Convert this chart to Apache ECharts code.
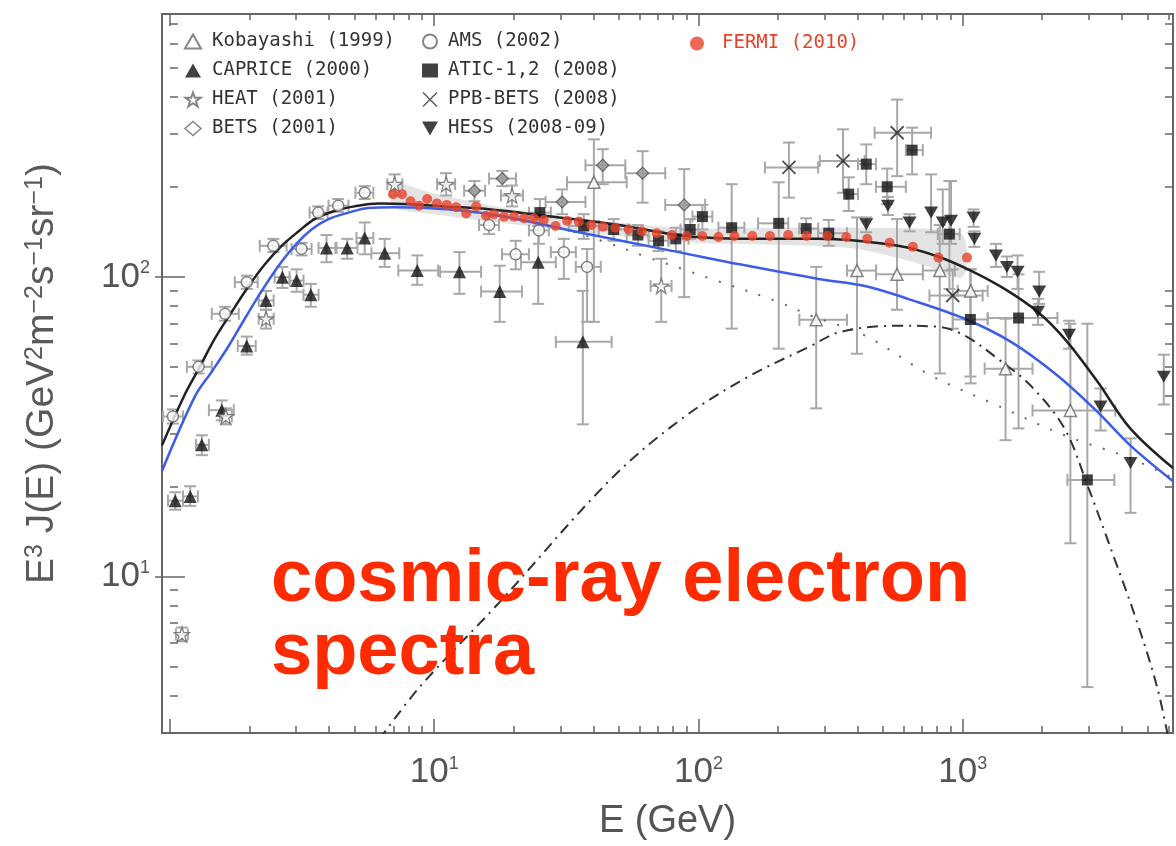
<!DOCTYPE html>
<html>
<head>
<meta charset="utf-8">
<title>cosmic-ray electron spectra</title>
<script src="https://cdn.jsdelivr.net/npm/echarts@6.0.0/dist/echarts.min.js"></script>
<style>
  html, body { margin: 0; padding: 0; background: #fff; }
  #chart { width: 1176px; height: 846px; }
</style>
</head>
<body>
<div id="chart"></div>
<script>
// axis ranges: E in GeV, E^3 J(E) in GeV^2 m^-2 s^-1 sr^-1
const xRange = [0.933, 6250];
const yRange = [3, 755];
const xLabelValues = [10, 100, 1000];
const yLabelValues = [10, 100];
const xMajorTicks = [1, 10, 100, 1000];
const xMinorTicks = [2, 3, 4, 5, 6, 7, 8, 9, 20, 30, 40, 50, 60, 70, 80, 90,
  200, 300, 400, 500, 600, 700, 800, 900, 2000, 3000, 4000, 5000, 6000];
const yMajorTicks = [10, 100];
const yMinorTicks = [4, 5, 6, 7, 8, 9, 20, 30, 40, 50, 60, 70, 80, 90, 200, 300, 400, 500, 600, 700];

// rows: [E, E3J, E low, E high, E3J low, E3J high]
const kobayashi = [
  [40.2, 207, 31.8, 53.5, 70.8, 288],
  [279, 71.9, 241, 365, 36.4, 108],
  [398, 105, 365, 470, 55.4, 158],
  [564, 102, 470, 707, 77.7, 156],
  [819, 105, 707, 933, 47.6, 149],
  [1072, 89.8, 957, 1243, 44.1, 106],
  [1453, 49.4, 1211, 1838, 28.5, 72.5],
  [2556, 35.8, 1838, 3780, 12.9, 69.8]
];
const caprice = [
  [1.047, 17.9, 0.983, 1.120, 16.7, 19.1],
  [1.193, 18.5, 1.120, 1.275, 17.2, 20.0],
  [1.320, 27.5, 1.254, 1.404, 25.4, 29.6],
  [1.571, 35.9, 1.404, 1.744, 33.2, 38.7],
  [1.953, 58.8, 1.806, 2.111, 55.0, 63.2],
  [2.309, 83.4, 2.167, 2.469, 77.7, 89.8],
  [2.663, 99.8, 2.490, 2.837, 91.9, 108],
  [3.015, 97.2, 2.837, 3.203, 89.2, 106],
  [3.413, 87.2, 3.203, 3.650, 79.5, 94.8],
  [3.913, 125, 3.650, 4.268, 112, 138],
  [4.685, 125, 4.231, 5.122, 115, 134],
  [5.458, 135, 5.078, 5.886, 119, 152],
  [6.494, 120, 5.785, 7.379, 108, 134],
  [8.628, 105, 7.315, 10.35, 94.1, 118],
  [12.46, 104, 10.53, 15.05, 87.8, 121],
  [17.70, 89.4, 15.05, 21.48, 70.8, 109],
  [24.75, 112, 21.29, 28.86, 81.3, 148],
  [36.50, 60.7, 28.86, 46.95, 32.2, 89.8]
];
const heat = [
  [1.110, 6.40, 1.053, 1.169, 6.07, 6.75],
  [1.627, 34.2, 1.544, 1.714, 32.2, 36.4],
  [2.309, 72.5, 2.167, 2.469, 67.2, 77.7],
  [7.085, 204, 6.646, 7.573, 187, 220],
  [11.10, 204, 10.26, 12.00, 187, 222],
  [19.70, 187, 17.89, 21.67, 172, 202],
  [72.3, 93.3, 65.9, 79.1, 70.8, 115]
];
const bets = [
  [14.20, 194, 12.98, 15.58, 179, 209],
  [18.10, 213, 16.13, 20.39, 201, 226],
  [30.50, 178, 26.40, 37.36, 162, 196],
  [43.42, 236, 37.36, 52.89, 204, 267],
  [61.46, 222, 52.89, 74.88, 177, 263],
  [88.31, 174, 74.88, 106.0, 85.6, 229]
];
const ams = [
  [1.026, 34.2, 0.941, 1.120, 32.4, 36.1],
  [1.283, 50.1, 1.159, 1.440, 47.6, 52.6],
  [1.617, 75.3, 1.440, 1.821, 71.4, 79.5],
  [1.953, 96.0, 1.760, 2.148, 91.2, 101],
  [2.462, 127, 2.186, 2.764, 121, 134],
  [3.148, 124, 2.886, 3.435, 118, 130],
  [3.640, 164, 3.375, 3.947, 156, 172],
  [4.332, 173, 3.981, 4.737, 165, 182],
  [5.458, 191, 5.033, 5.886, 182, 201],
  [16.13, 149, 14.78, 17.59, 139, 160],
  [20.34, 119, 18.06, 22.83, 106, 132],
  [24.90, 143, 22.83, 27.16, 129, 156],
  [30.95, 121, 27.64, 34.35, 98.5, 134],
  [37.88, 108, 34.35, 42.68, 70.8, 124]
];
const atic = [
  [25.12, 164, 22.83, 27.64, 149, 182],
  [36.81, 148, 32.32, 41.95, 134, 162],
  [47.77, 144, 41.95, 54.43, 132, 156],
  [58.99, 138, 53.49, 64.76, 127, 149],
  [70.63, 132, 64.76, 77.06, 122, 142],
  [82.09, 134, 77.06, 91.69, 122, 146],
  [93.05, 144, 85.53, 100.0, 134, 156],
  [103.5, 159, 94.93, 112.9, 144, 174],
  [133.6, 146, 119.0, 149.2, 67.2, 204],
  [201.3, 151, 168.1, 218.6, 57.6, 207],
  [255.6, 145, 240.5, 283.8, 134, 157],
  [311.3, 140, 283.8, 365.0, 127, 155],
  [370.4, 189, 365.0, 401.6, 166, 215],
  [431.6, 238, 401.6, 469.6, 204, 277],
  [518.0, 200, 469.6, 609.4, 175, 230],
  [643.7, 265, 609.4, 706.5, 220, 315],
  [890.8, 139, 804.8, 974.3, 91.2, 209],
  [1069, 72.1, 916.9, 1243, 46.5, 106],
  [1627, 72.9, 1243, 2283, 31.2, 102],
  [2963, 21.0, 2490, 3747, 4.27, 69.8]
];
const ppbBets = [
  [220.0, 232, 178.5, 283.8, 184, 281],
  [352.5, 244, 287.9, 425.6, 191, 311],
  [565.0, 303, 464.3, 759.2, 217, 391],
  [916.9, 86.7, 748.6, 1190, 67.2, 106]
];
const hess = [
  [431.6, 150, 431.6, 431.6, 141, 158],
  [521.2, 173, 521.2, 521.2, 161, 185],
  [629.3, 152, 629.3, 629.3, 142, 162],
  [759.2, 164, 759.2, 759.2, 141, 220],
  [840.5, 152, 840.5, 840.5, 129, 196],
  [903.3, 154, 903.3, 903.3, 129, 209],
  [1100, 158, 1100, 1100, 147, 168],
  [1107, 134, 1107, 1107, 126, 142],
  [1336, 118, 1336, 1336, 108, 129],
  [1470, 108, 1470, 1470, 100, 117],
  [1613, 104, 1613, 1613, 91.2, 118],
  [1927, 76.5, 1927, 1927, 69.2, 84.5],
  [1947, 89.4, 1947, 1947, 81.3, 104],
  [2527, 64.1, 2527, 2527, 57.6, 71.4],
  [3325, 36.9, 3325, 3325, 30.7, 42.4],
  [4317, 23.9, 4317, 4317, 16.3, 28.9],
  [5768, 46.4, 5768, 5768, 37.5, 55.0]
];
// [E, E3J]
const fermi = [
  [6.99, 189], [7.55, 189], [8.14, 179], [8.76, 173], [9.41, 182], [10.24, 176],
  [11.16, 174], [12.11, 171], [13.21, 163], [14.41, 172], [15.71, 160], [16.84, 162],
  [18.37, 159], [20.04, 159], [21.86, 157], [23.85, 157], [26.01, 155], [28.79, 148],
  [31.84, 154], [35.25, 153], [39.37, 149], [43.54, 147], [48.50, 146], [54.43, 144],
  [61.10, 142], [69.59, 140], [79.29, 138], [90.33, 137], [103.5, 137], [119.0, 136],
  [136.7, 137], [159.9, 137], [186.5, 137], [218.6, 138], [256.3, 137], [307.5, 137],
  [362.7, 136], [435.5, 134], [528.9, 130], [647.6, 126], [809.6, 116], [1038, 116]
];
const fermiBandE = [7, 10, 20, 50, 100, 200, 400, 700, 1000];
const fermiBandHi = [205, 190, 168, 152, 145, 146, 146, 145, 138];
const fermiBandLo = [172, 162, 150, 137, 130, 128, 124, 110, 100];

// model curves [E, E3J]
const totalModel = [
  [0.933, 27.4], [1.129, 39.9], [1.286, 49.4], [1.478, 62.2], [1.714, 76.5], [1.987, 93.3],
  [2.283, 110], [2.646, 127], [3.068, 142], [3.525, 156], [4.195, 166], [4.99, 172],
  [6.15, 176], [8.19, 175], [10.9, 172], [16.4, 168], [29.6, 158], [49.9, 149], [89.3, 137],
  [168, 134], [284, 134], [569, 127], [805, 117], [1072, 105], [1440, 91.2], [1919, 76.5],
  [2427, 62.2], [3230, 44.8], [4305, 31.2], [6250, 23.0]
];
const blueModel = [
  [0.933, 22.5], [1.243, 39.9], [1.440, 48.3], [1.670, 58.9], [1.919, 72.5], [2.225, 89.8],
  [2.578, 109], [2.963, 127], [3.435, 144], [3.98, 156], [4.74, 164], [5.63, 170],
  [7.07, 171], [9.49, 170], [16.4, 162], [35.3, 141], [84.0, 121], [130, 112], [284, 98.5],
  [427, 93.3], [620, 84.5], [1018, 72.5], [1518, 60.8], [2282, 46.9], [3230, 35.5],
  [4305, 27.4], [6250, 20.8]
];
const dottedModel = [
  [16.4, 162], [29.6, 146], [43.0, 132], [63.1, 117], [112, 98.5], [200, 82.6], [267, 74.2],
  [427, 63.7], [757, 46.9], [1355, 37.2], [2427, 29.6], [4305, 24.8], [6250, 21.3]
];
const dashDotModel = [
  [6.20, 2.86], [8.93, 4.33], [17.6, 8.17], [45.8, 20.8], [84.1, 33.0], [150, 45.8],
  [267, 58.9], [346, 65.6], [569, 68.7], [805, 68.2], [1018, 63.7], [1355, 53.4],
  [1806, 43.4], [2427, 31.2], [2963, 20.2], [3747, 11.5], [4575, 7.02], [5443, 4.27], [6040, 2.80]
];

const STAR = 'path://M50,2L61.8,36.2L97.6,36.2L68.7,57.4L79.6,91.6L50,70.6L20.4,91.6L31.3,57.4L2.4,36.2L38.2,36.2Z';
const CROSS = 'path://M0,0L10,10M10,0L0,10';
const DOWN = 'path://M0,0L10,0L5,8.7Z';
const FONT = 'Liberation Sans';
const AXIS_GREY = '#555';
const ERR_GREY = '#a8a8a8';

let pointSets = [
  { name: 'Kobayashi (1999)', data: kobayashi, symbol: 'triangle', size: 12,
    style: { color: '#fff', borderColor: '#666', borderWidth: 1.5 } },
  { name: 'CAPRICE (2000)', data: caprice, symbol: 'triangle', size: 13,
    style: { color: '#111' } },
  { name: 'HEAT (2001)', data: heat, symbol: STAR, size: 15,
    style: { color: '#fff', borderColor: '#666', borderWidth: 1.3 } },
  { name: 'BETS (2001)', data: bets, symbol: 'diamond', size: 12,
    style: { color: '#999', borderColor: '#555', borderWidth: 1.3 } },
  { name: 'AMS (2002)', data: ams, symbol: 'circle', size: 11,
    style: { color: '#fff', borderColor: '#666', borderWidth: 1.5 } },
  { name: 'ATIC-1,2 (2008)', data: atic, symbol: 'rect', size: 11,
    style: { color: '#111' } },
  { name: 'PPB-BETS (2008)', data: ppbBets, symbol: CROSS, size: 13,
    style: { color: '#222', borderColor: '#222', borderWidth: 1.8 } },
  { name: 'HESS (2008-09)', data: hess, symbol: DOWN, size: [14, 12],
    style: { color: '#111' } }
];

function renderErrorBar(params, api) {
  let e = api.value(0), j = api.value(1);
  let c = api.coord([e, j]);
  let l = api.coord([api.value(2), j]);
  let r = api.coord([api.value(3), j]);
  let b = api.coord([e, api.value(4)]);
  let t = api.coord([e, api.value(5)]);
  let cap = 6;
  let style = { stroke: ERR_GREY, lineWidth: 2 };
  let children = [];
  let seg = (x1, y1, x2, y2) => children.push({ type: 'line', shape: { x1, y1, x2, y2 }, style });
  if (r[0] - l[0] > 1) {
    seg(l[0], c[1], r[0], c[1]);
    seg(l[0], c[1] - cap, l[0], c[1] + cap);
    seg(r[0], c[1] - cap, r[0], c[1] + cap);
  }
  if (b[1] - t[1] > 1) {
    seg(c[0], t[1], c[0], b[1]);
    seg(c[0] - cap, t[1], c[0] + cap, t[1]);
    seg(c[0] - cap, b[1], c[0] + cap, b[1]);
  }
  return { type: 'group', children };
}

function renderBand(params, api) {
  let pts = [];
  fermiBandE.forEach((e, i) => pts.push(api.coord([e, fermiBandHi[i]])));
  for (let i = fermiBandE.length - 1; i >= 0; i--) pts.push(api.coord([fermiBandE[i], fermiBandLo[i]]));
  return { type: 'polygon', shape: { points: pts, smooth: 0.3 }, style: { fill: '#dcdcdc', opacity: 0.8 } };
}

let sameValue = (list, v) => list.some(l => Math.abs(v / l - 1) < 1e-6);
let supRich = {
  b: { fontSize: 35, color: AXIS_GREY, fontFamily: FONT },
  s: { fontSize: 18, color: AXIS_GREY, fontFamily: FONT, verticalAlign: 'top' }
};

let tickAxis = (position, range, values, len) => ({
  type: 'value',
  position: position,
  min: Math.log10(range[0]),
  max: Math.log10(range[1]),
  axisLine: { show: false },
  axisLabel: { show: false },
  splitLine: { show: false },
  axisTick: { show: true, inside: true, length: len, customValues: values.map(Math.log10),
    lineStyle: { color: '#666', width: 1.5 } }
});

let series = [];
series.push({ type: 'custom', name: 'fermi-band', renderItem: renderBand, data: [[fermiBandE[0], fermiBandHi[0]]],
  encode: { x: 0, y: 1 }, clip: true, z: 1, silent: true });
pointSets.forEach(s => {
  series.push({ type: 'custom', name: s.name + ' error', renderItem: renderErrorBar, data: s.data,
    encode: { x: [0, 2, 3], y: [1, 4, 5] }, clip: true, z: 2, silent: true });
});
let curve = (data, color, width, type) => ({
  type: 'line', data: data, smooth: 0.35, symbol: 'none', clip: true, z: 3, silent: true,
  lineStyle: { color: color, width: width, type: type }
});
series.push(curve(dottedModel, '#666', 2, [2, 12]));
series.push(curve(dashDotModel, '#333', 2, [11, 6, 2, 6]));
series.push(curve(blueModel, '#3d5ce8', 2.5, 'solid'));
series.push(curve(totalModel, '#222', 2.5, 'solid'));
pointSets.forEach(s => {
  series.push({ type: 'scatter', name: s.name, data: s.data.map(r => [r[0], r[1]]),
    symbol: s.symbol, symbolSize: s.size, itemStyle: s.style, clip: true, z: 4 });
});
series.push({ type: 'scatter', name: 'FERMI (2010)', data: fermi, symbol: 'circle', symbolSize: 10,
  itemStyle: { color: '#e8412b' }, clip: true, z: 5 });

let legendText = { fontFamily: 'DejaVu Sans Mono', fontSize: 19, color: '#333' };
let legendBase = { orient: 'vertical', itemWidth: 16, itemHeight: 14, itemGap: 10, selectedMode: false, padding: 0 };

let option = {
  animation: false,
  backgroundColor: '#fff',
  title: {
    text: 'cosmic-ray electron\nspectra',
    left: 271, top: 544, padding: 0,
    textStyle: { fontFamily: FONT, fontSize: 74, fontWeight: 'bold', color: '#fe2a00', lineHeight: 73 }
  },
  legend: [
    Object.assign({}, legendBase, { left: 184, top: 32,
      textStyle: Object.assign({}, legendText, { padding: [0, 0, 0, 6] }),
      data: [
        { name: 'Kobayashi (1999)' },
        { name: 'CAPRICE (2000)' },
        { name: 'HEAT (2001)' },
        { name: 'BETS (2001)', itemStyle: { color: '#fff', borderColor: '#666', borderWidth: 1.5 } }
      ] }),
    Object.assign({}, legendBase, { left: 422, top: 32,
      textStyle: Object.assign({}, legendText, { padding: [0, 0, 0, 5] }),
      data: [
        { name: 'AMS (2002)' },
        { name: 'ATIC-1,2 (2008)' },
        { name: 'PPB-BETS (2008)', itemStyle: { borderColor: '#333', borderWidth: 1.5 } },
        { name: 'HESS (2008-09)' }
      ] }),
    Object.assign({}, legendBase, { left: 690, top: 34,
      textStyle: Object.assign({}, legendText, { padding: [0, 0, 0, 12], color: '#e8412b' }),
      data: [{ name: 'FERMI (2010)' }] })
  ],
  grid: { left: 162, right: 0, top: 14, bottom: 110, show: true, borderColor: '#666', borderWidth: 2 },
  xAxis: [
    {
      type: 'log', position: 'bottom', min: xRange[0], max: xRange[1],
      name: 'E (GeV)', nameLocation: 'middle', nameGap: 70,
      nameTextStyle: { fontFamily: FONT, fontSize: 38, color: AXIS_GREY },
      axisLine: { show: false }, axisTick: { show: false }, splitLine: { show: false },
      axisLabel: {
        margin: 22,
        formatter: v => sameValue(xLabelValues, v) ? '{b|10}{s|' + Math.round(Math.log10(v)) + '}' : '',
        rich: supRich
      }
    },
    tickAxis('bottom', xRange, xMajorTicks, 14),
    tickAxis('bottom', xRange, xMinorTicks, 7),
    tickAxis('top', xRange, xMajorTicks, 12),
    tickAxis('top', xRange, xMinorTicks, 6)
  ],
  yAxis: [
    {
      type: 'log', position: 'left', min: yRange[0], max: yRange[1],
      name: '{b|E}{s|3}{b| J(E) (GeV}{s|2}{b|m}{s|\u22122}{b|s}{s|\u22121}{b|sr}{s|\u22121}{b|)}',
      nameLocation: 'middle', nameGap: 100, nameRotate: 90,
      nameTextStyle: {
        rich: {
          b: { fontSize: 39, color: '#5a5a5a', fontFamily: FONT },
          s: { fontSize: 25, color: '#5a5a5a', fontFamily: FONT, verticalAlign: 'top' }
        }
      },
      axisLine: { show: false }, axisTick: { show: false }, splitLine: { show: false },
      axisLabel: {
        margin: 12,
        formatter: v => sameValue(yLabelValues, v) ? '{b|10}{s|' + Math.round(Math.log10(v)) + '}' : '',
        rich: supRich
      }
    },
    tickAxis('left', yRange, yMajorTicks, 15),
    tickAxis('left', yRange, yMinorTicks, 8),
    tickAxis('right', yRange, yMajorTicks, 15),
    tickAxis('right', yRange, yMinorTicks, 8)
  ],
  series: series
};

let chart = echarts.init(document.getElementById('chart'));
chart.setOption(option);
</script>
</body>
</html>
